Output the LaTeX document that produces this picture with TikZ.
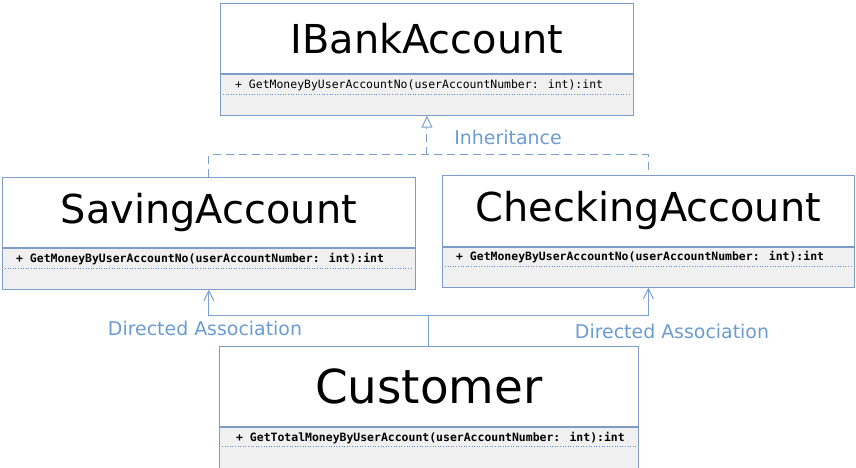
\documentclass[tikz,border=0pt]{standalone}
\usepackage{fontspec}
\setmainfont{DejaVu Sans}
\newfontfamily\monof{DejaVu Sans Mono}
\usetikzlibrary{arrows.meta}
\definecolor{boxline}{HTML}{7F9CC8}
\definecolor{dotc}{HTML}{5F8FD0}
\definecolor{conn}{HTML}{7A9FD2}
\definecolor{lbl}{HTML}{6A9BD3}
\definecolor{methfill}{HTML}{F0F0F0}
\begin{document}
\begin{tikzpicture}[x=1bp,y=-1bp,
 title/.style={draw=boxline, line width=0.8bp, fill=white, inner sep=0pt, anchor=north west, font=\fontsize{40}{48}\selectfont},
 meth/.style={draw=boxline, line width=0.8bp, fill=methfill, inner sep=0pt, anchor=north west},
 mtext/.style={anchor=west, inner sep=0pt, font=\monof\fontsize{11.5}{13}\selectfont},
 dots/.style={draw=dotc, dash pattern=on 1bp off 1.6bp, line width=0.8bp},
 inh/.style={draw=conn, line width=1bp, dash pattern=on 8bp off 5bp},
 assoc/.style={draw=conn, line width=1bp},
 lab/.style={text=lbl, font=\fontsize{19}{22}\selectfont, inner sep=0pt}]
\useasboundingbox (0,0) rectangle (856,468);

% IBankAccount
\node[title, minimum width=413bp, minimum height=70bp] (ib) at (220,3) {IBankAccount};
\node[meth, minimum width=413bp, minimum height=41bp] (ibm) at (ib.south west) {};
\node[mtext] (ibt) at ([xshift=15bp,yshift=-12bp]ibm.north west) {+ GetMoneyByUserAccountNo(userAccountNumber: int):int};
\draw[dots] ([xshift=3bp,yshift=-21bp]ibm.north west) -- ([xshift=-3bp,yshift=-21bp]ibm.north east);

% SavingAccount
\node[title, minimum width=413bp, minimum height=70bp] (sa) at (2,177) {SavingAccount};
\node[meth, minimum width=413bp, minimum height=41bp] (sam) at (sa.south west) {};
\node[mtext] (sat) at ([xshift=14bp,yshift=-11bp]sam.north west) {\bfseries + GetMoneyByUserAccountNo(userAccountNumber: int):int};
\draw[dots] ([xshift=3bp,yshift=-21bp]sam.north west) -- ([xshift=-3bp,yshift=-21bp]sam.north east);

% CheckingAccount
\node[title, minimum width=412bp, minimum height=71bp] (ca) at (442,175) {CheckingAccount};
\node[meth, minimum width=412bp, minimum height=40bp] (cam) at (ca.south west) {};
\node[mtext] (cat) at ([xshift=14bp,yshift=-10bp]cam.north west) {\bfseries + GetMoneyByUserAccountNo(userAccountNumber: int):int};
\draw[dots] ([xshift=3bp,yshift=-20bp]cam.north west) -- ([xshift=-3bp,yshift=-20bp]cam.north east);

% Customer
\node[title, minimum width=419bp, minimum height=80bp, font=\fontsize{47}{56}\selectfont] (cu) at (219,346) {Customer};
\node[meth, minimum width=419bp, minimum height=41bp] (cum) at (cu.south west) {};
\node[mtext] (cut) at ([xshift=17bp,yshift=-11bp]cum.north west) {\bfseries + GetTotalMoneyByUserAccount(userAccountNumber: int):int};
\draw[dots] ([xshift=3bp,yshift=-20bp]cum.north west) -- ([xshift=-3bp,yshift=-20bp]cum.north east);

% Inheritance
\coordinate (ij) at (ibm.south |- 0,155);
\draw[inh] (sa.north) -- (sa.north |- ij) -- (ca.north |- ij) -- (ca.north);
\draw[inh, -{Triangle[open, width=11bp, length=12bp]}] (ij) -- (ibm.south);

% Directed associations
\coordinate (cj) at (cu.north |- 0,316);
\draw[assoc] (cu.north) -- (cj);
\draw[assoc, -{Straight Barb[length=10bp, width=10bp]}] (cj) -| (sam.south);
\draw[assoc, -{Straight Barb[length=10bp, width=10bp]}] (cj) -| (cam.south);

% Labels
\node[lab] (linh) at (508,137) {Inheritance};
\node[lab] (lda) at (205,328) {Directed Association};
\node[lab] (ldb) at (672,331) {Directed Association};
\end{tikzpicture}
\end{document}
